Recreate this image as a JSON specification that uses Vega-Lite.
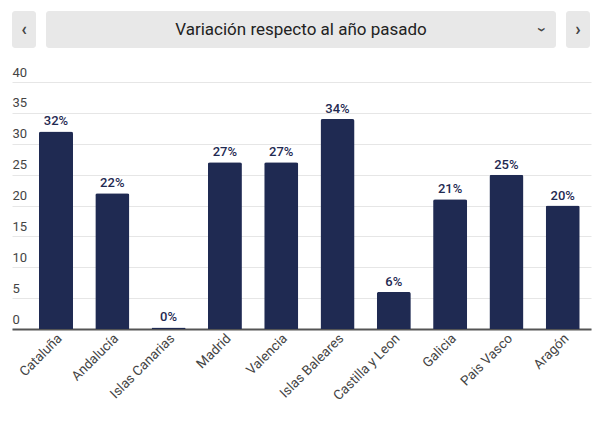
{
  "$schema": "https://vega.github.io/schema/vega-lite/v6.json",
  "padding": {"left": 12, "top": 11, "right": 10, "bottom": 5},
  "background": "#ffffff",
  "config": {
    "view": {"stroke": null},
    "font": "Roboto",
    "concat": {"spacing": 10}
  },
  "spacing": 18,
  "vconcat": [
    {
      "spacing": 10,
      "hconcat": [
        {
          "width": 24, "height": 37,
          "view": {"fill": "#e8e8e8", "stroke": null, "cornerRadius": 3},
          "data": {"values": [{"label": "‹"}]},
          "mark": {"type": "text", "fontSize": 18, "fontWeight": "bold", "color": "#444444", "font": "Roboto", "baseline": "middle"},
          "encoding": {"text": {"field": "label"}}
        },
        {
          "width": 510, "height": 37,
          "view": {"fill": "#e8e8e8", "stroke": null, "cornerRadius": 3},
          "layer": [
            {
              "data": {"values": [{"label": "Variación respecto al año pasado"}]},
              "mark": {"type": "text", "fontSize": 17, "color": "#222222", "font": "Roboto", "baseline": "middle"},
              "encoding": {"text": {"field": "label"}}
            },
            {
              "data": {"values": [{"label": "›"}]},
              "mark": {"type": "text", "fontSize": 17, "fontWeight": "bold", "color": "#444444", "font": "Roboto", "baseline": "middle", "angle": 90, "dy": -241},
              "encoding": {"text": {"field": "label"}}
            }
          ]
        },
        {
          "width": 24, "height": 37,
          "view": {"fill": "#e8e8e8", "stroke": null, "cornerRadius": 3},
          "data": {"values": [{"label": "›"}]},
          "mark": {"type": "text", "fontSize": 18, "fontWeight": "bold", "color": "#444444", "font": "Roboto", "baseline": "middle"},
          "encoding": {"text": {"field": "label"}}
        }
      ]
    },
    {
      "width": 579,
      "height": 247,
      "data": {
        "values": [
          {"region": "Cataluña", "value": 32},
          {"region": "Andalucía", "value": 22},
          {"region": "Islas Canarias", "value": 0.25},
          {"region": "Madrid", "value": 27},
          {"region": "Valencia", "value": 27},
          {"region": "Islas Baleares", "value": 34},
          {"region": "Castilla y Leon", "value": 6},
          {"region": "Galicia", "value": 21},
          {"region": "Pais Vasco", "value": 25},
          {"region": "Aragón", "value": 20}
        ]
      },
      "transform": [
        {"calculate": "format(datum.value, '.0f') + '%'", "as": "label"}
      ],
      "encoding": {
        "x": {
          "field": "region", "type": "nominal", "sort": null,
          "scale": {"paddingInner": 0.396, "paddingOuter": 0.34, "align": 0.705},
          "axis": {
            "title": null, "labelAngle": -45, "labelAlign": "right", "labelBaseline": "middle",
            "labelFontSize": 13.5, "labelColor": "#444444", "labelFont": "Roboto",
            "ticks": false, "labelPadding": 7, "labelOffset": 4,
            "domainColor": "#555555", "domainWidth": 2, "grid": false
          }
        },
        "y": {
          "field": "value", "type": "quantitative",
          "scale": {"domain": [0, 40], "nice": false},
          "axis": {
            "title": null, "values": [0, 5, 10, 15, 20, 25, 30, 35, 40],
            "ticks": false, "domain": false, "labelAlign": "left", "labelBaseline": "bottom",
            "labelPadding": 0, "labelOffset": -3, "labelFontSize": 13, "labelColor": "#444444",
            "labelFont": "Roboto", "gridColor": "#e6e6e6", "gridWidth": 1
          }
        }
      },
      "layer": [
        {
          "mark": {"type": "bar", "color": "#1f2a52", "cornerRadiusTopLeft": 2, "cornerRadiusTopRight": 2}
        },
        {
          "mark": {"type": "text", "baseline": "bottom", "dy": -3, "fontSize": 13, "fontWeight": 500, "color": "#1f2a52", "font": "Roboto"},
          "encoding": {"text": {"field": "label"}}
        }
      ]
    }
  ]
}
